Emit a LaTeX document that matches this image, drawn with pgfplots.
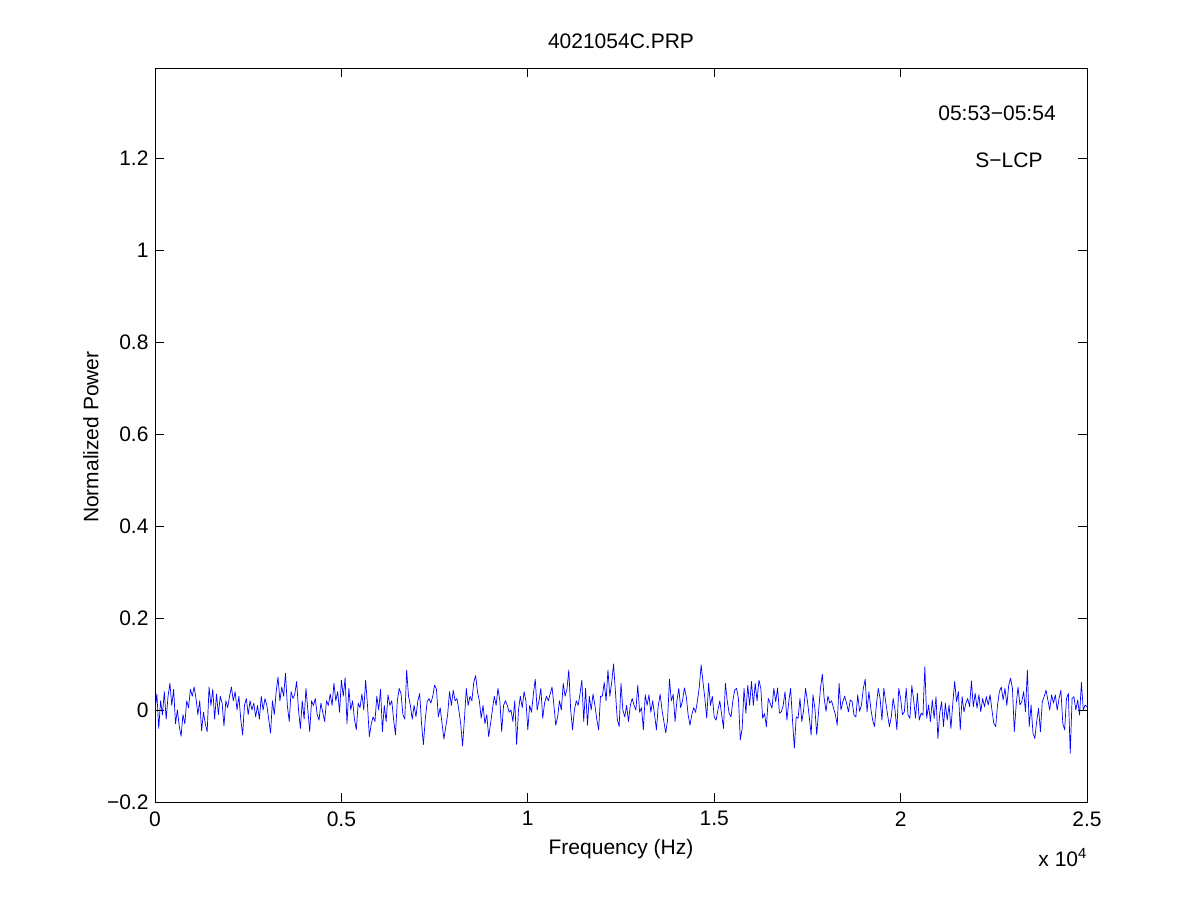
\documentclass[border=0pt]{standalone}
\usepackage{fontspec}
\setmainfont{Liberation Sans}
\usepackage{pgfplots}
\pgfplotsset{compat=1.18}
\begin{document}
\begin{tikzpicture}[font=\fontsize{21bp}{25bp}\selectfont]
\useasboundingbox (0,0) rectangle (1201bp,901bp);
\fill[white] (0,0) rectangle (1201bp,901bp);
\begin{axis}[
  at={(155bp,99bp)}, anchor=south west,
  scale only axis, width=932bp, height=734bp,
  xmin=0, xmax=25000, ymin=-0.2, ymax=1.3957,
  axis line style={line width=0.8bp},
  tick style={line width=0.8bp, black},
  major tick length=9bp,
  tick align=inside,
  xtick={0,5000,10000,15000,20000,25000},
  xticklabels={0,0.5,1,1.5,2,2.5},
  scaled x ticks=false,
  ytick={-0.2,0,0.2,0.4,0.6,0.8,1,1.2},
  yticklabels={−0.2,0,0.2,0.4,0.6,0.8,1,1.2},
  xticklabel style={yshift=-6bp},
  yticklabel style={xshift=-3bp},
  title={4021054C.PRP},
  title style={at={(0.5,1.028)},anchor=center},
  xlabel={Frequency (Hz)},
  xlabel style={at={(0.5,-0.064)},anchor=center},
  ylabel={Normalized Power},
  ylabel style={at={(-0.0687,0.497)},anchor=center},
  clip mode=individual,
]
\addplot[blue, line width=0.7bp, line join=round] coordinates {
(0,0.00) (50,0.035) (100,-0.04) (150,0.02) (200,-0.01) (250,0.04) (300,-0.02) (350,0.03) (400,0.058) (450,0.01)
(500,0.045) (550,-0.03) (600,0.0) (650,-0.035) (700,-0.057) (750,-0.01) (800,-0.03) (850,0.02) (900,0.005) (950,0.045)
(1000,0.03) (1050,0.05) (1100,0.025) (1150,-0.01) (1200,0.02) (1250,-0.045) (1300,-0.005) (1350,-0.03) (1400,-0.047) (1450,0.05)
(1500,0.01) (1550,0.045) (1600,-0.02) (1650,0.035) (1700,-0.01) (1750,0.03) (1800,0.015) (1850,-0.035) (1900,0.02) (1950,0.005)
(2000,0.03) (2050,0.05) (2100,0.02) (2150,0.04) (2200,0.0) (2250,0.03) (2300,-0.02) (2350,-0.054) (2400,0.01) (2450,0.025)
(2500,-0.01) (2550,0.02) (2600,0.0) (2650,0.015) (2700,-0.015) (2750,0.01) (2800,-0.02) (2850,0.03) (2900,0.0) (2950,0.025)
(3000,0.01) (3050,-0.02) (3100,-0.05) (3150,0.02) (3200,-0.01) (3250,0.04) (3300,0.072) (3350,0.02) (3400,0.05) (3450,0.03)
(3500,0.08) (3550,0.01) (3600,-0.025) (3650,0.04) (3700,0.025) (3750,0.035) (3800,0.062) (3850,0.0) (3900,-0.04) (3950,0.02)
(4000,-0.02) (4050,0.047) (4100,0.0) (4150,-0.047) (4200,0.02) (4250,0.01) (4300,0.025) (4350,-0.01) (4400,-0.022) (4450,0.015)
(4500,-0.005) (4550,-0.025) (4600,0.02) (4650,0.01) (4700,0.035) (4750,0.01) (4800,0.058) (4850,0.02) (4900,0.04) (4950,-0.005)
(5000,0.065) (5050,0.03) (5100,0.07) (5150,-0.03) (5200,0.047) (5250,0.0) (5300,0.02) (5350,-0.02) (5400,-0.043) (5450,0.015)
(5500,0.005) (5550,0.035) (5600,0.0) (5650,0.065) (5700,0.01) (5750,-0.058) (5800,-0.03) (5850,-0.015) (5900,-0.025) (5950,0.03)
(6000,0.0) (6050,0.045) (6100,-0.047) (6150,0.01) (6200,-0.025) (6250,0.033) (6300,0.01) (6350,0.02) (6400,-0.02) (6450,-0.054)
(6500,0.02) (6550,0.047) (6600,0.035) (6650,-0.01) (6700,-0.02) (6750,0.087) (6800,0.03) (6850,0.01) (6900,-0.02) (6950,0.01)
(7000,-0.015) (7050,0.02) (7100,0.036) (7150,-0.03) (7200,-0.075) (7250,-0.02) (7300,0.018) (7350,0.025) (7400,0.015) (7450,0.03)
(7500,0.054) (7550,0.045) (7600,-0.015) (7650,0.005) (7700,-0.03) (7750,-0.063) (7800,-0.036) (7850,-0.01) (7900,0.04) (7950,0.01)
(8000,0.043) (8050,0.02) (8100,0.025) (8150,0.0) (8200,-0.03) (8250,-0.078) (8300,-0.02) (8350,0.047) (8400,0.01) (8450,0.03)
(8500,0.02) (8550,0.06) (8600,0.075) (8650,0.04) (8700,0.02) (8750,-0.018) (8800,0.01) (8850,-0.03) (8900,-0.01) (8950,-0.058)
(9000,-0.03) (9050,0.0) (9100,0.03) (9150,0.01) (9200,0.047) (9250,0.02) (9300,-0.047) (9350,0.01) (9400,0.02) (9450,0.01)
(9500,-0.005) (9550,0.0) (9600,-0.025) (9650,0.02) (9700,-0.075) (9750,0.0) (9800,0.03) (9850,0.005) (9900,0.04) (9950,0.02)
(10000,-0.043) (10050,0.01) (10100,-0.005) (10150,0.035) (10200,0.067) (10250,0.0) (10300,0.02) (10350,0.047) (10400,-0.018) (10450,0.015)
(10500,0.03) (10550,0.02) (10600,0.035) (10650,0.05) (10700,0.01) (10750,-0.033) (10800,-0.015) (10850,0.02) (10900,0.0) (10950,0.058)
(11000,0.03) (11050,0.045) (11100,0.087) (11150,0.0) (11200,-0.043) (11250,0.0) (11300,0.02) (11350,0.01) (11400,0.035) (11450,0.065)
(11500,-0.025) (11550,0.047) (11600,-0.033) (11650,0.03) (11700,0.0) (11750,0.035) (11800,0.01) (11850,-0.02) (11900,-0.043) (11950,0.03)
(12000,0.03) (12050,0.06) (12100,0.02) (12150,0.087) (12200,0.03) (12250,0.06) (12300,0.1) (12350,0.04) (12400,-0.02) (12450,-0.036)
(12500,0.058) (12550,0.0) (12600,-0.015) (12650,0.01) (12700,-0.025) (12750,0.01) (12800,0.025) (12850,0.01) (12900,0.0) (12950,0.054)
(13000,-0.005) (13050,0.005) (13100,-0.043) (13150,0.033) (13200,0.01) (13250,0.033) (13300,-0.005) (13350,0.02) (13400,-0.01) (13450,-0.043)
(13500,0.01) (13550,0.034) (13600,0.0) (13650,-0.025) (13700,-0.05) (13750,-0.02) (13800,0.067) (13850,0.02) (13900,0.034) (13950,-0.025)
(14000,0.02) (14050,0.047) (14100,0.005) (14150,0.02) (14200,0.048) (14250,0.03) (14300,-0.01) (14350,-0.033) (14400,-0.01) (14450,0.005)
(14500,-0.005) (14550,0.02) (14600,0.05) (14650,0.098) (14700,0.06) (14750,0.025) (14800,-0.018) (14850,0.058) (14900,0.01) (14950,0.03)
(15000,-0.015) (15050,-0.022) (15100,0.0) (15150,0.02) (15200,-0.01) (15250,-0.04) (15300,0.058) (15350,0.02) (15400,-0.007) (15450,-0.015)
(15500,0.02) (15550,0.043) (15600,0.047) (15650,0.025) (15700,-0.065) (15750,-0.04) (15800,0.047) (15850,-0.007) (15900,0.054) (15950,0.01)
(16000,0.062) (16050,0.01) (16100,0.058) (16150,0.02) (16200,0.065) (16250,0.047) (16300,-0.018) (16350,-0.008) (16400,-0.036) (16450,0.025)
(16500,0.015) (16550,0.004) (16600,0.047) (16650,0.018) (16700,0.048) (16750,-0.007) (16800,-0.004) (16850,0.01) (16900,0.04) (16950,-0.022)
(17000,0.018) (17050,0.047) (17100,-0.022) (17150,-0.083) (17200,-0.015) (17250,-0.018) (17300,0.025) (17350,-0.025) (17400,0.0) (17450,0.047)
(17500,0.02) (17550,-0.015) (17600,-0.054) (17650,0.033) (17700,0.004) (17750,-0.054) (17800,-0.003) (17850,0.047) (17900,0.078) (17950,0.025)
(18000,-0.003) (18050,0.03) (18100,0.015) (18150,0.02) (18200,0.004) (18250,-0.01) (18300,-0.033) (18350,0.058) (18400,0.0) (18450,0.018)
(18500,0.03) (18550,0.015) (18600,-0.004) (18650,0.022) (18700,0.018) (18750,-0.011) (18800,-0.015) (18850,0.033) (18900,-0.003) (18950,0.011)
(19000,0.047) (19050,0.067) (19100,-0.004) (19150,0.04) (19200,0.004) (19250,-0.022) (19300,-0.036) (19350,0.011) (19400,0.047) (19450,0.025)
(19500,-0.022) (19550,0.047) (19600,0.018) (19650,-0.01) (19700,-0.036) (19750,-0.015) (19800,0.025) (19850,0.0) (19900,-0.043) (19950,0.047)
(20000,0.025) (20050,-0.01) (20100,-0.004) (20150,0.047) (20200,-0.011) (20250,-0.018) (20300,0.053) (20350,0.022) (20400,-0.018) (20450,0.036)
(20500,-0.022) (20550,-0.007) (20600,-0.011) (20650,0.094) (20700,-0.018) (20750,0.011) (20800,-0.025) (20850,0.022) (20900,-0.018) (20950,0.029)
(21000,-0.062) (21050,-0.007) (21100,0.018) (21150,-0.036) (21200,0.015) (21250,-0.022) (21300,0.011) (21350,-0.04) (21400,0.015) (21450,0.062)
(21500,0.018) (21550,0.04) (21600,-0.043) (21650,0.029) (21700,-0.004) (21750,0.015) (21800,0.025) (21850,0.007) (21900,0.063) (21950,0.007)
(22000,0.036) (22050,0.004) (22100,0.033) (22150,-0.004) (22200,0.025) (22250,0.007) (22300,0.029) (22350,0.011) (22400,0.033) (22450,0.0)
(22500,-0.029) (22550,-0.036) (22600,0.011) (22650,0.04) (22700,0.05) (22750,0.022) (22800,0.047) (22850,0.01) (22900,0.054) (22950,0.069)
(23000,0.047) (23050,-0.047) (23100,0.011) (23150,0.05) (23200,0.011) (23250,0.018) (23300,0.04) (23350,-0.004) (23400,0.087) (23450,-0.036)
(23500,0.011) (23550,-0.05) (23600,-0.062) (23650,-0.025) (23700,0.004) (23750,-0.047) (23800,0.018) (23850,0.029) (23900,0.043) (23950,0.022)
(24000,0.0) (24050,0.033) (24100,0.015) (24150,0.033) (24200,0.0) (24250,0.025) (24300,0.043) (24350,-0.029) (24400,-0.043) (24450,0.025)
(24500,0.036) (24550,-0.094) (24600,0.025) (24650,0.029) (24700,0.0) (24750,0.022) (24800,-0.011) (24850,0.06) (24900,0.0) (24950,0.011)
(25000,0.007)
};
\node[anchor=center] at (axis cs:22586,1.298) {05:53−05:54};
\node[anchor=center] at (axis cs:22908,1.196) {S−LCP};
\node[anchor=base east, inner sep=0pt] at (axis description cs:1.0,-0.0875) {x 10\textsuperscript{4}};
\end{axis}
\end{tikzpicture}
\end{document}
